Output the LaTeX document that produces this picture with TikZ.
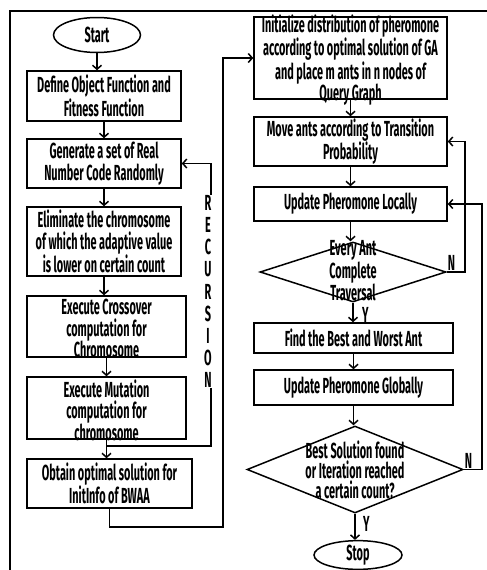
\documentclass[tikz,border=0pt]{standalone}
\usepackage{fontspec}
\setmainfont{Fira Sans}[FakeStretch=0.5]
\usetikzlibrary{shapes.geometric, arrows.meta, positioning, calc}

\tikzset{
  procbox/.style={draw, line width=1.5pt, align=center, inner sep=1pt},
  decision/.style={draw, diamond, line width=1.5pt, inner sep=0pt},
  terminal/.style={draw, ellipse, line width=1.5pt, inner sep=0pt},
  boxtext/.style={align=center, inner sep=0pt},
  conn/.style={line width=1.5pt},
  arr/.style={line width=1.5pt, -{Straight Barb[length=4pt,width=9pt]}}
}

\begin{document}
\begin{tikzpicture}[x=1pt, y=-1pt, font=\fontsize{21.8}{21.6}\selectfont\bfseries]
    \useasboundingbox (0,0) rectangle (487,570);

    % Frame
    \draw[line width=1.5pt] (487,11) -- (10,11) -- (10,570);

    % Left column (GA part)
    \node[terminal, minimum width=87pt, minimum height=35pt] (start) at (97,35) {Start};
    \node[procbox, minimum width=154pt, minimum height=50pt] (objfun) at (104,96) {Define Object Function and\\Fitness Function};
    \node[procbox, minimum width=154pt, minimum height=49pt] (generate) at (104,163.5) {Generate a set of Real\\Number Code Randomly};
    \node[procbox, minimum width=154pt, minimum height=69pt] (eliminate) at (104,241.5) {Eliminate the chromosome\\of which the adaptive value\\is lower on certain count};
    \node[procbox, minimum width=159pt, minimum height=61pt,
          label={[boxtext, yshift=-2pt]center:Execute Crossover\\computation for\\Chromosome}] (crossover) at (106.5,326.5) {};
    \node[procbox, minimum width=159pt, minimum height=62pt,
          label={[boxtext, yshift=-2pt]center:Execute Mutation\\computation for\\chromosome}] (mutation) at (106.5,408) {};
    \node[procbox, minimum width=165pt, minimum height=49pt] (obtain) at (109.5,483.5) {Obtain optimal solution for\\InitInfo of BWAA};
    \node[boxtext, font=\fontsize{21.8}{22.1}\selectfont\bfseries] (recword) at (208,291.5) {R\\E\\C\\U\\R\\S\\I\\O\\N};

    % Right column (ant colony part)
    \node[procbox, minimum width=193pt, minimum height=82pt,
          label={[boxtext, yshift=-2pt]center:Initialize distribution of pheromone\\according to optimal solution of GA\\and place m ants in n nodes of\\Query Graph}] (init) at (350.5,58) {};
    \node[procbox, minimum width=193pt, minimum height=49pt] (move) at (350.5,141.5) {Move ants according to Transition\\Probability};
    \node[procbox, minimum width=193pt, minimum height=34pt] (local) at (350.5,204) {Update Pheromone Locally};
    \node[decision, minimum width=186pt, minimum height=60pt,
          label={[boxtext, font=\fontsize{21.8}{19.5}\selectfont\bfseries, yshift=1pt]center:Every Ant\\Complete\\Traversal}] (every) at (353,272) {};
    \node[procbox, minimum width=199pt, minimum height=30pt] (find) at (353.5,338) {Find the Best and Worst Ant};
    \node[procbox, minimum width=199pt, minimum height=35pt] (global) at (353.5,387.5) {Update Pheromone Globally};
    \node[decision, minimum width=216pt, minimum height=87pt,
          label={[boxtext, font=\fontsize{21.8}{20}\selectfont\bfseries]center:Best Solution found\\or Iteration reached\\a certain count?}] (best) at (355,469.5) {};
    \node[terminal, minimum width=88pt, minimum height=24pt] (stop) at (358,555) {Stop};

    % Flow of the left column
    \draw[arr] (start.south) -- (start.south |- objfun.north);
    \draw[arr] (objfun.south) -- (objfun.south |- generate.north);
    \draw[arr] (generate.south) -- (generate.south |- eliminate.north);
    \draw[arr] (eliminate.south) -- (eliminate.south |- crossover.north);
    \draw[arr] (crossover.south) -- (crossover.south |- mutation.north);
    \draw[arr] (mutation.south) -- (mutation.south |- obtain.north);

    % Recursion loop
    \coordinate (recbend) at (211,446);
    \draw[conn] (mutation.south |- recbend) -- (recbend) -- (recbend |- recword.south);
    \draw[arr] (recbend |- recword.north) |- (generate.east);

    % Hand over to the ant colony
    \coordinate (gaback) at (223,527);
    \draw[arr] (obtain.south) |- (gaback) |- (init.west);

    % Flow of the right column
    \draw[arr] (init.south) -- (init.south |- move.north);
    \draw[arr] (move.south) -- (move.south |- local.north);
    \draw[arr] (local.south) -- (local.south |- every.north);
    \draw[arr] (every.south) -- node[right, xshift=5pt, pos=0.62] {Y} (every.south |- find.north);
    \draw[arr] (find.south) -- (find.south |- global.north);
    \draw[arr] (global.south) -- (global.south |- best.north);
    \draw[arr] (best.south) -- node[right, xshift=4pt, pos=0.4] {Y} (best.south |- stop.north);

    % No branches
    \draw[arr] (every.east) -- ++(18,0) |- (move.east);
    \node[above right, inner sep=1pt] at (every.east) {N};
    \draw[arr] (best.east) -- ++(18,0) |- (local.east);
    \node[above right, inner sep=1pt] at (best.east) {N};
\end{tikzpicture}
\end{document}
